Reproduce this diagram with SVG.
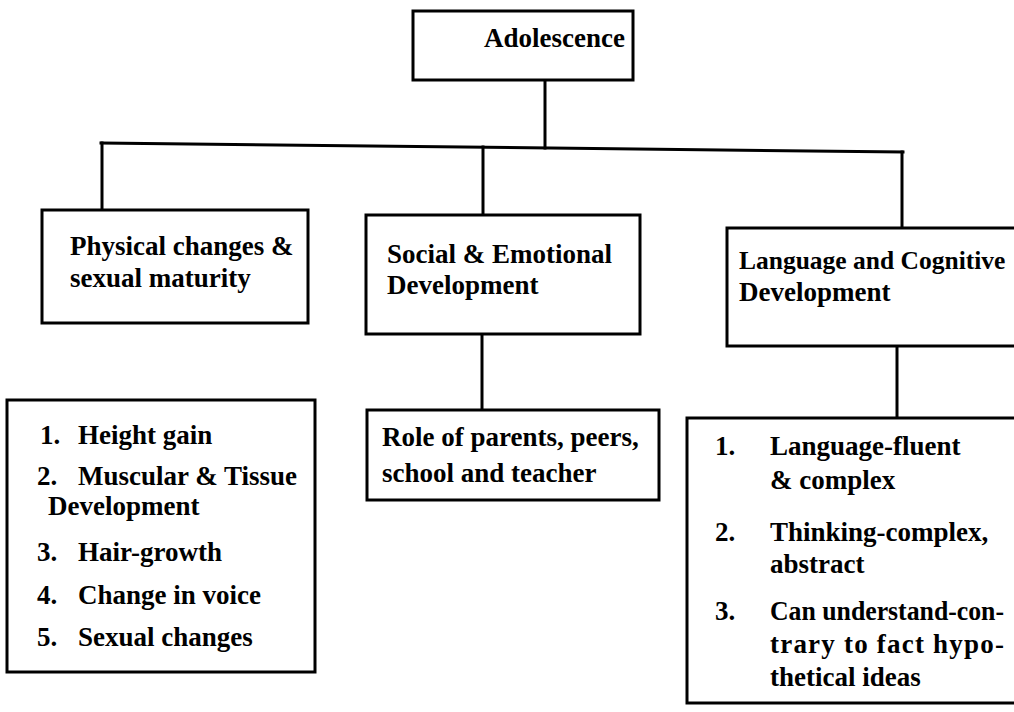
<svg xmlns="http://www.w3.org/2000/svg" width="1014" height="712" viewBox="0 0 1014 712" font-family="'Liberation Serif', 'DejaVu Serif', 'Times New Roman', serif">
  <style>
    .box { fill: #ffffff; stroke: #000000; stroke-width: 3; }
    .link { fill: none; stroke: #000000; stroke-width: 3; stroke-linecap: square; }
    .t { font-family: 'Liberation Serif', 'DejaVu Serif', 'Times New Roman', serif; font-size: 27px; font-weight: bold; fill: #000000; }
    .narrow { font-size: 25.5px; }
  </style>
  <rect x="0" y="0" width="1014" height="712" fill="#ffffff"/>

  <!-- tree connectors -->
  <g id="connectors">
    <line class="link" x1="545" y1="80" x2="545" y2="148"/>
    <line class="link" x1="101" y1="143" x2="903" y2="152"/>
    <line class="link" x1="102" y1="143" x2="102" y2="210"/>
    <line class="link" x1="483" y1="147" x2="483" y2="215"/>
    <line class="link" x1="902" y1="152" x2="902" y2="228"/>
    <line class="link" x1="482" y1="334" x2="482" y2="410"/>
    <line class="link" x1="897" y1="346" x2="897" y2="418"/>
  </g>

  <g id="adolescence">
    <rect class="box" x="413" y="11" width="220" height="69"/>
    <text class="t" x="484" y="47">Adolescence</text>
  </g>

  <g id="physical">
    <rect class="box" x="42" y="210" width="266" height="113"/>
    <text class="t" x="70" y="255">Physical changes &amp;</text>
    <text class="t" x="70" y="287">sexual maturity</text>
  </g>

  <g id="social">
    <rect class="box" x="366" y="215" width="274" height="119"/>
    <text class="t" x="387" y="263">Social &amp; Emotional</text>
    <text class="t" x="387" y="294">Development</text>
  </g>

  <g id="language">
    <rect class="box" x="727" y="228" width="300" height="118"/>
    <text class="t narrow" x="739" y="269">Language and Cognitive</text>
    <text class="t" x="739" y="301">Development</text>
  </g>

  <g id="physical-list">
    <rect class="box" x="7" y="400" width="308" height="272"/>
    <text class="t" x="40" y="444">1.</text><text class="t" x="78" y="444">Height gain</text>
    <text class="t" x="37" y="485">2.</text><text class="t" x="78" y="485">Muscular &amp; Tissue</text>
    <text class="t" x="48" y="515">Development</text>
    <text class="t" x="37" y="561">3.</text><text class="t" x="78" y="561">Hair-growth</text>
    <text class="t" x="37" y="604">4.</text><text class="t" x="78" y="604">Change in voice</text>
    <text class="t" x="37" y="646">5.</text><text class="t" x="78" y="646">Sexual changes</text>
  </g>

  <g id="social-roles">
    <rect class="box" x="367" y="410" width="292" height="90"/>
    <text class="t" x="382" y="446">Role of parents, peers,</text>
    <text class="t" x="382" y="482">school and teacher</text>
  </g>

  <g id="language-list">
    <rect class="box" x="687" y="418" width="340" height="285"/>
    <text class="t" x="715" y="455">1.</text><text class="t" x="770" y="455">Language-fluent</text>
    <text class="t" x="770" y="489">&amp; complex</text>
    <text class="t" x="715" y="541">2.</text><text class="t" x="770" y="541">Thinking-complex,</text>
    <text class="t" x="770" y="573">abstract</text>
    <text class="t" x="715" y="620">3.</text><text class="t" x="770" y="620" textLength="234" lengthAdjust="spacingAndGlyphs">Can understand-con-</text>
    <text class="t" x="770" y="653" textLength="234" lengthAdjust="spacing">trary to fact hypo-</text>
    <text class="t" x="770" y="686">thetical ideas</text>
  </g>
</svg>
